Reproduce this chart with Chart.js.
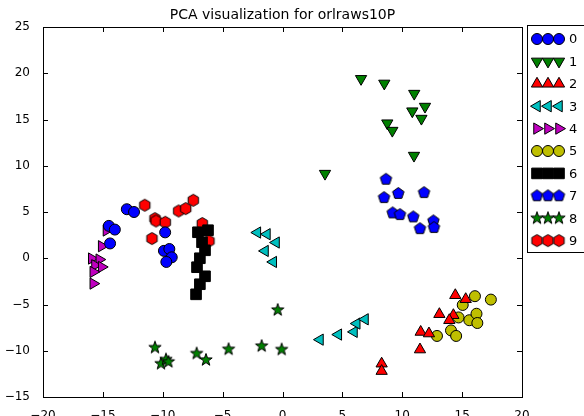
<!DOCTYPE html>
<html>
<head>
<meta charset="utf-8">
<script src="https://cdn.jsdelivr.net/npm/chart.js@4"></script>
<style>
  body { margin: 0; background: #fff; }
  #wrap { width: 584px; height: 416px; }
</style>
</head>
<body>
<div id="wrap"><canvas id="pca" width="584" height="416"></canvas></div>
<script>
// PCA scores, one array per digit class
const digit0 = [[-13.0, 5.3], [-12.4, 5.0], [-14.5, 3.5], [-14.0, 3.1], [-14.4, 1.6], [-9.8, 2.8], [-9.9, 0.8], [-9.45, 1.0], [-9.25, 0.1], [-9.7, -0.4]];
const digit1 = [[6.56, 19.4], [8.5, 18.9], [11.0, 17.8], [11.9, 16.4], [10.84, 15.9], [11.6, 15.1], [8.75, 14.6], [9.17, 13.8], [10.98, 11.1], [3.55, 9.15]];
const digit2 = [[14.43, -4.0], [15.3, -4.43], [13.1, -6.05], [14.27, -6.16], [13.93, -6.7], [11.54, -7.97], [12.23, -8.14], [11.48, -9.87], [8.28, -11.4], [8.28, -12.2]];
const digit3 = [[-2.1, 2.78], [-1.3, 2.6], [-0.54, 1.7], [-1.46, 0.79], [-0.77, -0.4], [3.13, -8.8], [4.66, -8.25], [5.97, -7.96], [6.2, -7.06], [6.89, -6.6]];
const digit4 = [[-14.7, 3.0], [-15.1, 1.3], [-15.93, -0.03], [-15.3, -0.14], [-15.66, -0.76], [-15.1, -0.94], [-15.8, -1.48], [-15.8, -2.74]];
const digit5 = [[16.07, -4.1], [17.4, -4.47], [15.05, -5.05], [14.7, -6.4], [15.6, -6.7], [16.2, -6.0], [16.27, -7.0], [14.07, -7.8], [14.5, -8.4], [12.9, -8.4]];
const digit6 = [[-7.06, 2.81], [-6.22, 3.03], [-6.72, 1.73], [-6.47, 0.86], [-6.9, 0.0], [-7.14, -0.97], [-6.47, -1.95], [-6.9, -2.81], [-7.22, -3.9]];
const digit7 = [[8.64, 8.54], [8.48, 6.56], [9.67, 7.0], [11.82, 7.1], [9.2, 4.9], [9.81, 4.72], [10.92, 4.47], [11.48, 3.2], [12.6, 4.04], [12.65, 3.32]];
const digit8 = [[-10.65, -9.66], [-10.15, -11.4], [-9.73, -10.95], [-9.53, -11.2], [-7.17, -10.3], [-6.39, -11.0], [-4.5, -9.84], [-1.74, -9.5], [-0.07, -9.87], [-0.4, -5.6]];
const digit9 = [[-11.5, 5.73], [-10.65, 4.29], [-10.56, 4.03], [-9.79, 3.89], [-10.9, 2.13], [-8.67, 5.11], [-8.08, 5.37], [-7.45, 6.27], [-6.7, 3.75], [-6.14, 1.87]];

const classLabels = ['0', '1', '2', '3', '4', '5', '6', '7', '8', '9'];
const xTicks = [-20, -15, -10, -5, 0, 5, 10, 15, 20];
const yTicks = [-15, -10, -5, 0, 5, 10, 15, 20, 25];
const chartTitle = 'PCA visualization for orlraws10P';

const FONT = "'DejaVu Sans', sans-serif";

// filled polygon / star markers matplotlib has but chart.js doesn't
function makeMarker(kind, fill, r) {
    const c = document.createElement('canvas');
    const s = Math.ceil(r * 2 + 3);
    c.width = s; c.height = s;
    const g = c.getContext('2d');
    const cx = s / 2, cy = s / 2;
    g.beginPath();
    if (kind === 'star') {
        for (let i = 0; i < 10; i++) {
            const rr = i % 2 === 0 ? r : r * 0.4;
            const a = -Math.PI / 2 + i * Math.PI / 5;
            g.lineTo(cx + rr * Math.cos(a), cy + rr * Math.sin(a));
        }
    } else {
        const n = kind === 'pentagon' ? 5 : 6;
        for (let i = 0; i < n; i++) {
            const a = -Math.PI / 2 + i * 2 * Math.PI / n;
            g.lineTo(cx + r * Math.cos(a), cy + r * Math.sin(a));
        }
    }
    g.closePath();
    g.fillStyle = fill;
    g.fill();
    g.lineWidth = 1;
    g.strokeStyle = '#000';
    g.stroke();
    return c;
}

const styles = [
    { color: '#0000ff', pointStyle: 'circle', radius: 5.5, rotation: 0 },
    { color: '#008000', pointStyle: 'triangle', radius: 6.5, rotation: 180 },
    { color: '#ff0000', pointStyle: 'triangle', radius: 6.5, rotation: 0 },
    { color: '#00bfbf', pointStyle: 'triangle', radius: 6.5, rotation: 270 },
    { color: '#bf00bf', pointStyle: 'triangle', radius: 6.5, rotation: 90 },
    { color: '#bfbf00', pointStyle: 'circle', radius: 5.5, rotation: 0 },
    { color: '#000000', pointStyle: 'rect', radius: 7.5, rotation: 0 },
    { color: '#0000ff', pointStyle: makeMarker('pentagon', '#0000ff', 6), radius: 6, rotation: 0 },
    { color: '#008000', pointStyle: makeMarker('star', '#008000', 6.5), radius: 6.5, rotation: 0 },
    { color: '#ff0000', pointStyle: makeMarker('hexagon', '#ff0000', 6), radius: 6, rotation: 0 },
];

const series = [digit0, digit1, digit2, digit3, digit4, digit5, digit6, digit7, digit8, digit9];

const datasets = series.map((pts, i) => ({
    label: classLabels[i],
    data: pts.map(p => ({ x: p[0], y: p[1] })),
    backgroundColor: styles[i].color,
    borderColor: '#000',
    borderWidth: 1,
    pointStyle: styles[i].pointStyle,
    pointRadius: styles[i].radius,
    pointHoverRadius: styles[i].radius,
    pointRotation: styles[i].rotation,
}));

const minus = v => String(v).replace('-', '\u2212');

// frame, inward ticks, title and the 3-marker legend, matplotlib style
const mplDecor = {
    id: 'mplDecor',
    afterDraw(chart) {
        const { ctx, chartArea: a, scales } = chart;
        ctx.save();
        ctx.strokeStyle = '#000';
        ctx.lineWidth = 1;
        ctx.strokeRect(Math.round(a.left) + 0.5, Math.round(a.top) + 0.5,
            Math.round(a.right - a.left), Math.round(a.bottom - a.top));

        ctx.beginPath();
        xTicks.forEach(v => {
            const px = Math.round(scales.x.getPixelForValue(v)) + 0.5;
            ctx.moveTo(px, a.bottom); ctx.lineTo(px, a.bottom - 5);
            ctx.moveTo(px, a.top); ctx.lineTo(px, a.top + 5);
        });
        yTicks.forEach(v => {
            const py = Math.round(scales.y.getPixelForValue(v)) + 0.5;
            ctx.moveTo(a.left, py); ctx.lineTo(a.left + 5, py);
            ctx.moveTo(a.right, py); ctx.lineTo(a.right - 5, py);
        });
        ctx.stroke();

        ctx.fillStyle = '#000';
        ctx.font = '14px ' + FONT;
        ctx.textAlign = 'center';
        ctx.textBaseline = 'middle';
        ctx.fillText(chartTitle, (a.left + a.right) / 2, 15);

        // legend
        const lx = 527, ly = 25, rowH = 22.4;
        ctx.fillStyle = '#fff';
        ctx.fillRect(lx, ly, 70, 227);
        ctx.strokeRect(lx + 0.5, ly + 0.5, 70, 227);
        ctx.font = '13px ' + FONT;
        ctx.textAlign = 'left';
        classLabels.forEach((lab, i) => {
            const y = 39 + i * rowH;
            const st = styles[i];
            for (let k = 0; k < 3; k++) {
                ctx.fillStyle = st.color;
                ctx.strokeStyle = '#000';
                ctx.lineWidth = 1;
                Chart.helpers.drawPoint(ctx, {
                    pointStyle: st.pointStyle, radius: st.radius,
                    rotation: st.rotation, borderWidth: 1
                }, 537 + k * 11, y);
            }
            ctx.fillStyle = '#000';
            ctx.fillText(lab, 569, y + 1);
        });
        ctx.restore();
    }
};

new Chart(document.getElementById('pca'), {
    type: 'scatter',
    data: { datasets },
    plugins: [mplDecor],
    options: {
        responsive: false,
        animation: false,
        devicePixelRatio: 1,
        layout: { padding: { top: 27, right: 62, left: 0, bottom: 0 } },
        plugins: { legend: { display: false }, tooltip: { enabled: false } },
        scales: {
            x: {
                type: 'linear', min: -20, max: 20,
                grid: { display: false }, border: { display: false },
                afterBuildTicks: s => { s.ticks = xTicks.map(v => ({ value: v })); },
                afterFit: s => { s.height = 19; s.paddingLeft = 0; s.paddingRight = 0; },
                ticks: {
                    color: '#000', padding: 4, maxRotation: 0, autoSkip: false,
                    font: { family: FONT, size: 12 },
                    callback: v => minus(v)
                }
            },
            y: {
                type: 'linear', min: -15, max: 25,
                grid: { display: false }, border: { display: false },
                afterBuildTicks: s => { s.ticks = yTicks.map(v => ({ value: v })); },
                afterFit: s => { s.width = 43; s.paddingTop = 0; s.paddingBottom = 0; },
                ticks: {
                    color: '#000', padding: 5, autoSkip: false,
                    font: { family: FONT, size: 12 },
                    callback: v => minus(v)
                }
            }
        }
    }
});
</script>
</body>
</html>
